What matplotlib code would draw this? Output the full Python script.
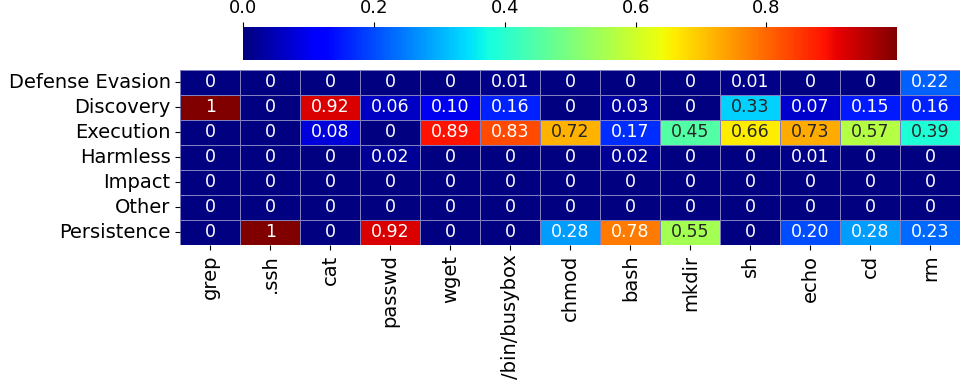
import numpy as np
import matplotlib
matplotlib.use('Agg')
import matplotlib.pyplot as plt
import seaborn as sns

tactics = ['Defense Evasion', 'Discovery', 'Execution', 'Harmless', 'Impact', 'Other', 'Persistence']
commands = ['grep', '.ssh', 'cat', 'passwd', 'wget', '/bin/busybox', 'chmod', 'bash',
            'mkdir', 'sh', 'echo', 'cd', 'rm']

defense_evasion = [0, 0, 0, 0, 0, 0.01, 0, 0, 0, 0.01, 0, 0, 0.22]
discovery = [1, 0, 0.92, 0.06, 0.10, 0.16, 0, 0.03, 0, 0.33, 0.07, 0.15, 0.16]
execution = [0, 0, 0.08, 0, 0.89, 0.83, 0.72, 0.17, 0.45, 0.66, 0.73, 0.57, 0.39]
harmless = [0, 0, 0, 0.02, 0, 0, 0, 0.02, 0, 0, 0.01, 0, 0]
impact = [0] * 13
other = [0] * 13
persistence = [0, 1, 0, 0.92, 0, 0, 0.28, 0.78, 0.55, 0, 0.20, 0.28, 0.23]

data = np.array([defense_evasion, discovery, execution, harmless, impact, other, persistence])

# labels: plain "0"/"1", otherwise two decimals
labels = [['0' if v == 0 else ('1' if v == 1 else f'{v:.2f}') for v in row] for row in data]

fig = plt.figure(figsize=(9.69, 3.88), dpi=100)
ax = fig.add_axes([0.186, 0.369, 0.805, 0.451])
cax = fig.add_axes([0.251, 0.845, 0.675, 0.085])

sns.heatmap(data, ax=ax, cbar_ax=cax, cmap='jet', vmin=0, vmax=1,
            annot=np.array(labels), fmt='', annot_kws={'fontsize': 12.5},
            linewidths=0.4, linecolor='#8080c0',
            xticklabels=commands, yticklabels=tactics,
            cbar_kws={'orientation': 'horizontal'})

ax.tick_params(axis='y', labelsize=14, rotation=0)
ax.tick_params(axis='x', labelsize=14, rotation=90)

cax.xaxis.set_ticks_position('top')
cax.set_xticks([0.0, 0.2, 0.4, 0.6, 0.8])
cax.set_xticklabels(['0.0', '0.2', '0.4', '0.6', '0.8'])
cax.tick_params(labelsize=13)

fig.savefig('out.png', dpi=100)
